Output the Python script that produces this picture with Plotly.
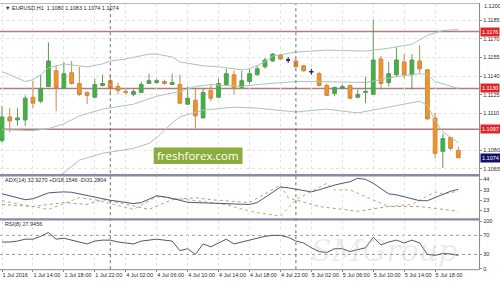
import plotly.graph_objects as go

W, H = 500, 283

# ---------------- data ----------------
bar_index = list(range(60))
opens = [1.10879, 1.11070, 1.11046, 1.11046, 1.11229, 1.11197, 1.11316, 1.11443, 1.11300, 1.11427,
         1.11340, 1.11268, 1.11229, 1.11324, 1.11363, 1.11316, 1.11276, 1.11252, 1.11268, 1.11340,
         1.11348, 1.11356, 1.11332, 1.11332, 1.11173, 1.11205, 1.11062, 1.11284, 1.11229, 1.11332,
         1.11411, 1.11308, 1.11356, 1.11411, 1.11475, 1.11522, 1.11570, 1.11530, 1.11522, 1.11483,
         1.11435, 1.11419, 1.11324, 1.11260, 1.11300, 1.11324, 1.11229, 1.11268, 1.11252, 1.11538,
         1.11348, 1.11411, 1.11514, 1.11411, 1.11522, 1.11451, 1.11062, 1.10792, 1.10903, 1.10800]
highs = [1.11157, 1.11141, 1.11141, 1.11244, 1.11363, 1.11411, 1.11673, 1.11490, 1.11514, 1.11522,
         1.11475, 1.11276, 1.11379, 1.11411, 1.11403, 1.11348, 1.11300, 1.11292, 1.11356, 1.11419,
         1.11379, 1.11371, 1.11419, 1.11411, 1.11316, 1.11300, 1.11300, 1.11332, 1.11379, 1.11459,
         1.11443, 1.11443, 1.11459, 1.11483, 1.11546, 1.11586, 1.11575, 1.11554, 1.11538, 1.11490,
         1.11459, 1.11435, 1.11340, 1.11316, 1.11332, 1.11332, 1.11292, 1.11395, 1.11856, 1.11562,
         1.11514, 1.11633, 1.11578, 1.11578, 1.11649, 1.11459, 1.11102, 1.10935, 1.10911, 1.10830]
lows = [1.10863, 1.10943, 1.10998, 1.10998, 1.11141, 1.11181, 1.11310, 1.11117, 1.11295, 1.11332,
        1.11237, 1.11173, 1.11221, 1.11316, 1.11252, 1.11252, 1.11252, 1.11237, 1.11262, 1.11336,
        1.11340, 1.11332, 1.11328, 1.11173, 1.11168, 1.10975, 1.11058, 1.11197, 1.11221, 1.11328,
        1.11252, 1.11300, 1.11340, 1.11405, 1.11459, 1.11514, 1.11530, 1.11506, 1.11467, 1.11435,
        1.11411, 1.11316, 1.11237, 1.11237, 1.11292, 1.11215, 1.11221, 1.11181, 1.11248, 1.11292,
        1.11316, 1.11395, 1.11379, 1.11292, 1.11419, 1.11050, 1.10736, 1.10657, 1.10800, 1.10740]
closes = [1.11070, 1.11038, 1.11062, 1.11221, 1.11181, 1.11300, 1.11522, 1.11308, 1.11419, 1.11340,
          1.11252, 1.11244, 1.11332, 1.11340, 1.11300, 1.11284, 1.11268, 1.11276, 1.11332, 1.11363,
          1.11363, 1.11340, 1.11348, 1.11181, 1.11221, 1.11078, 1.11268, 1.11221, 1.11340, 1.11419,
          1.11300, 1.11363, 1.11419, 1.11459, 1.11530, 1.11578, 1.11538, 1.11530, 1.11475, 1.11443,
          1.11435, 1.11324, 1.11244, 1.11308, 1.11316, 1.11221, 1.11252, 1.11276, 1.11530, 1.11340,
          1.11419, 1.11530, 1.11411, 1.11530, 1.11459, 1.11054, 1.10776, 1.10895, 1.10816, 1.10740]

tick_bars = [0, 4, 8, 12, 16, 20, 24, 28, 32, 36, 40, 44, 48, 52, 56]
tick_labels = ["1 Jul 2016", "1 Jul 14:00", "1 Jul 18:00", "1 Jul 22:00", "4 Jul 02:00",
               "4 Jul 06:00", "4 Jul 10:00", "4 Jul 14:00", "4 Jul 18:00", "4 Jul 22:00",
               "5 Jul 02:00", "5 Jul 06:00", "5 Jul 10:00", "5 Jul 14:00", "5 Jul 18:00"]
day_breaks = [14, 38]

price_ticks = [1.1185, 1.1170, 1.1155, 1.1140, 1.1125, 1.1110, 1.1080, 1.1065]
price_tick_text = ["1.1185", "1.1170", "1.1155", "1.1140", "1.1125", "1.1110", "1.1080", "1.1065"]
levels = [1.1176, 1.1130, 1.1097]
level_text = ["1.1176", "1.1130", "1.1097"]
last_price = 1.1074
title_text = "EURUSD,H1  1.1080 1.1083 1.1074 1.1074"

bb_upper_bars = [0, 1, 3, 4, 5, 6, 8, 9, 11, 13, 14, 16, 19, 20, 22, 23, 26, 28, 31, 32,
                 34, 35, 38, 42, 47, 48, 50, 53, 55, 57, 59]
bb_upper = [1.11435, 1.11411, 1.11356, 1.11371, 1.11411, 1.11467, 1.11498, 1.11490, 1.11475, 1.11498,
            1.11522, 1.11538, 1.11578, 1.11578, 1.11554, 1.11514, 1.11483, 1.11475, 1.11451, 1.11459,
            1.11514, 1.11562, 1.11594, 1.11610, 1.11602, 1.11610, 1.11625, 1.11657, 1.11729, 1.11768, 1.11776]
bb_mid_bars = [0, 4, 6, 8, 10, 13, 17, 20, 23, 25, 27, 29, 31, 33, 36, 38, 41, 45, 47, 51, 54, 55, 56, 59]
bb_mid = [1.10967, 1.10959, 1.10975, 1.11014, 1.11078, 1.11133, 1.11173, 1.11237, 1.11276, 1.11316,
          1.11332, 1.11324, 1.11316, 1.11332, 1.11348, 1.11356, 1.11356, 1.11348, 1.11348, 1.11395,
          1.11419, 1.11411, 1.11356, 1.11300]
bb_lower_bars = [6, 8, 10, 13, 17, 19, 20, 22, 23, 26, 30, 33, 38, 42, 46, 50, 54, 55, 56, 57, 58, 59]
bb_lower = [1.10562, 1.10617, 1.10721, 1.10776, 1.10816, 1.10856, 1.10903, 1.11022, 1.11070, 1.11125,
            1.11149, 1.11141, 1.11110, 1.11133, 1.11102, 1.11149, 1.11197, 1.11165, 1.11038, 1.10951,
            1.10903, 1.10863]

adx = [29.5, 27.5, 25.5, 23.6, 24.5, 27.5, 30.4, 31.0, 31.4, 31.0,
       29.4, 27.5, 25.6, 24.0, 23.0, 22.0, 20.7, 19.7, 20.7, 24.0,
       27.5, 26.5, 25.0, 23.0, 21.0, 20.7, 20.7, 20.5, 20.0, 19.7,
       19.5, 19.0, 18.8, 20.7, 26.0, 31.4, 36.2, 35.5, 34.0, 32.3,
       31.4, 33.5, 36.0, 38.2, 40.0, 41.5, 45.0, 44.0, 40.0, 35.0,
       29.4, 28.5, 26.5, 24.5, 22.6, 22.6, 25.5, 29.0, 32.0, 34.0]
plus_di_bars = [0, 4, 8, 11, 13, 15, 19, 22, 25, 27, 32, 35, 36, 37, 41, 46, 50, 54, 59]
plus_di = [18.8, 16.8, 20.7, 18.8, 23.6, 20.7, 13.9, 23.6, 25.6, 23.6, 20.7, 33.3, 38.2, 25.6,
           16.8, 12.0, 16.8, 16.8, 12.0]
minus_di_bars = [0, 6, 10, 12, 17, 20, 24, 29, 32, 36, 38, 42, 43, 45, 50, 53, 56, 57, 59]
minus_di = [22.6, 13.9, 25.6, 23.6, 13.9, 26.5, 23.6, 18.8, 12.0, 7.1, 23.6, 40.1, 33.3, 33.3,
            16.8, 18.8, 31.4, 29.4, 32.0]
adx_ticks = [44, 33, 23, 13]

rsi = [56, 56, 58, 62, 62, 68, 76, 62, 64, 60,
       56, 52, 58, 60, 60, 56, 54, 52, 58, 60,
       62, 60, 58, 38, 42, 30, 52, 46, 54, 62,
       52, 56, 60, 64, 68, 70, 70, 66, 58, 54,
       44, 36, 34, 42, 42, 36, 40, 44, 66, 50,
       56, 60, 54, 60, 54, 30, 28, 32, 31, 27.9]
rsi_levels = [70, 30]
rsi_ticks = [100, 70, 30, 0]

# ---------------- styling ----------------
FONT = "Liberation Sans"
TXT = "#2a2a2a"
GREEN, GREEN_LINE = "#3db53d", "#5a9a5a"
ORANGE, ORANGE_LINE = "#f7921e", "#c98a4a"
DOJI = "#1a1a60"
BB = "#a7c6b6"
LEVEL = "#b07c7c"
SEP = "#8a8aa2"
GRID = "#e4e4e4"


def py(pix):
    return 1 - pix / H


def px(pix):
    return pix / W


XDOM = [0, px(480)]
XRANGE = [-0.26, 61.68]

fig = go.Figure()

normal = [i for i in bar_index if opens[i] != closes[i]]
doji = [i for i in bar_index if opens[i] == closes[i]]

for bars, vals in [(bb_upper_bars, bb_upper), (bb_mid_bars, bb_mid), (bb_lower_bars, bb_lower)]:
    fig.add_trace(go.Scatter(x=bars, y=vals, mode="lines", line=dict(color=BB, width=1),
                             xaxis="x", yaxis="y", hoverinfo="skip"))

fig.add_trace(go.Candlestick(
    x=[bar_index[i] for i in normal],
    open=[opens[i] for i in normal], high=[highs[i] for i in normal],
    low=[lows[i] for i in normal], close=[closes[i] for i in normal],
    increasing=dict(fillcolor=GREEN, line=dict(color=GREEN_LINE, width=1)),
    decreasing=dict(fillcolor=ORANGE, line=dict(color=ORANGE_LINE, width=1)),
    whiskerwidth=0, xaxis="x", yaxis="y", hoverinfo="skip"))
fig.add_trace(go.Candlestick(
    x=[bar_index[i] for i in doji],
    open=[opens[i] for i in doji], high=[highs[i] for i in doji],
    low=[lows[i] for i in doji], close=[closes[i] for i in doji],
    increasing=dict(fillcolor=DOJI, line=dict(color=DOJI, width=1)),
    decreasing=dict(fillcolor=DOJI, line=dict(color=DOJI, width=1)),
    whiskerwidth=0, xaxis="x", yaxis="y", hoverinfo="skip"))

# ADX panel
fig.add_trace(go.Scatter(x=plus_di_bars, y=plus_di, mode="lines",
                         line=dict(color="#9aa884", width=1, dash="dot"), xaxis="x2", yaxis="y2"))
fig.add_trace(go.Scatter(x=minus_di_bars, y=minus_di, mode="lines",
                         line=dict(color="#d99c7c", width=1, dash="dot"), xaxis="x2", yaxis="y2"))
fig.add_trace(go.Scatter(x=bar_index, y=adx, mode="lines",
                         line=dict(color="#55556a", width=1), xaxis="x2", yaxis="y2"))

# RSI panel
fig.add_trace(go.Scatter(x=bar_index, y=rsi, mode="lines",
                         line=dict(color="#55556a", width=1), xaxis="x3", yaxis="y3"))

shapes = []
for lv in levels:
    shapes.append(dict(type="line", xref="paper", yref="y", x0=0, x1=px(480), y0=lv, y1=lv,
                       line=dict(color=LEVEL, width=1.5), layer="below"))
for lv in rsi_levels:
    shapes.append(dict(type="line", xref="paper", yref="y3", x0=0, x1=px(480), y0=lv, y1=lv,
                       line=dict(color="#9a9a9a", width=1, dash="dot"), layer="below"))
for b in day_breaks:
    shapes.append(dict(type="line", xref="x", yref="paper", x0=b, x1=b, y0=py(271), y1=py(1),
                       line=dict(color="#6a6a6a", width=1, dash="dot"), layer="above"))
# panel separators / frame
for top, bot in [(174, 176.5), (219, 221.5)]:
    shapes.append(dict(type="rect", xref="paper", yref="paper", x0=0, x1=px(480.5),
                       y0=py(bot), y1=py(top), fillcolor=SEP, line=dict(width=0), layer="above"))
shapes.append(dict(type="line", xref="paper", yref="paper", x0=0, x1=px(480.5), y0=py(0.5), y1=py(0.5),
                   line=dict(color="#b8b8c0", width=1), layer="above"))
shapes.append(dict(type="line", xref="paper", yref="paper", x0=0, x1=px(480.5), y0=py(271.5), y1=py(271.5),
                   line=dict(color="#8a8a8a", width=1), layer="above"))
shapes.append(dict(type="line", xref="paper", yref="paper", x0=px(480.5), x1=px(480.5), y0=py(271.5), y1=1,
                   line=dict(color="#8a8a8a", width=1), layer="above"))
# freshforex badge
shapes.append(dict(type="rect", xref="paper", yref="paper", x0=px(154), x1=px(243),
                   y0=py(164), y1=py(147), fillcolor="#8cad3c", line=dict(width=0), layer="above"))

small = dict(family=FONT, size=5.5, color=TXT)
annotations = [
    dict(text="▼ " + title_text, xref="paper", yref="paper", x=px(3), y=py(5), xanchor="left",
         yanchor="middle", showarrow=False, font=small),
    dict(text="ADX(14) 32.9270 +DI18.1546 -DI31.2804", xref="paper", yref="paper", x=px(3), y=py(180),
         xanchor="left", yanchor="middle", showarrow=False, font=small),
    dict(text="RSI(8) 27.9456", xref="paper", yref="paper", x=px(3), y=py(224.5),
         xanchor="left", yanchor="middle", showarrow=False, font=small),
    dict(text="1.1200", xref="paper", yref="paper", x=px(483), y=py(3), xanchor="left",
         yanchor="middle", showarrow=False, font=small),
    dict(text="freshforex.com", xref="paper", yref="paper", x=px(198.5), y=py(155.5), xanchor="center",
         yanchor="middle", showarrow=False, font=dict(family="Open Sans", size=11.5, color="white")),
    dict(text="<i>SMGroup</i>", xref="paper", yref="paper", x=px(385), y=py(252), xanchor="center",
         yanchor="middle", showarrow=False,
         font=dict(family="DejaVu Serif", size=30, color="rgba(185,185,185,0.28)")),
]
for lv, t in zip(levels, level_text):
    annotations.append(dict(text=t, xref="paper", yref="y", x=px(481), y=lv, xanchor="left",
                            yanchor="middle", showarrow=False, bgcolor="#e0262a", borderpad=1,
                            font=dict(family=FONT, size=5.5, color="white")))
annotations.append(dict(text="1.1074", xref="paper", yref="y", x=px(481), y=last_price, xanchor="left",
                        yanchor="middle", showarrow=False, bgcolor="#12126a", borderpad=1,
                        font=dict(family=FONT, size=5.5, color="white")))

axis_common = dict(showline=False, zeroline=False)
fig.update_layout(
    width=W, height=H, margin=dict(l=0, r=0, t=0, b=0),
    paper_bgcolor="white", plot_bgcolor="white", showlegend=False,
    shapes=shapes, annotations=annotations,
    xaxis=dict(domain=XDOM, range=XRANGE, anchor="y", showticklabels=False, rangeslider=dict(visible=False),
               tickvals=tick_bars, showgrid=True, gridcolor=GRID, griddash="dot", ticks="", **axis_common),
    xaxis2=dict(domain=XDOM, range=XRANGE, anchor="y2", showticklabels=False,
                tickvals=tick_bars, showgrid=True, gridcolor=GRID, griddash="dot", ticks="", **axis_common),
    xaxis3=dict(domain=XDOM, range=XRANGE, anchor="y3", tickvals=tick_bars, ticktext=tick_labels,
                tickangle=0, ticklabelposition="outside right", ticks="outside", ticklen=2,
                tickcolor="#8a8a8a", tickfont=small, showgrid=True, gridcolor=GRID, griddash="dot",
                **axis_common),
    yaxis=dict(domain=[py(174), py(1)], range=[1.106095, 1.119825], side="right", anchor="x",
               tickvals=price_ticks, ticktext=price_tick_text, tickfont=small, ticks="outside", ticklen=2,
               tickcolor="#8a8a8a", showgrid=True, gridcolor=GRID, griddash="dot", **axis_common),
    yaxis2=dict(domain=[py(219), py(176.5)], range=[5.17, 46.9], side="right", anchor="x2",
                tickvals=adx_ticks, tickfont=small, ticks="outside", ticklen=2, tickcolor="#8a8a8a",
                showgrid=False, **axis_common),
    yaxis3=dict(domain=[py(271), py(221.5)], range=[-1, 101], side="right", anchor="x3",
                tickvals=rsi_ticks, tickfont=small, ticks="outside", ticklen=2, tickcolor="#8a8a8a",
                showgrid=False, **axis_common),
)

fig.write_html("out.html", config={"displayModeBar": False})
